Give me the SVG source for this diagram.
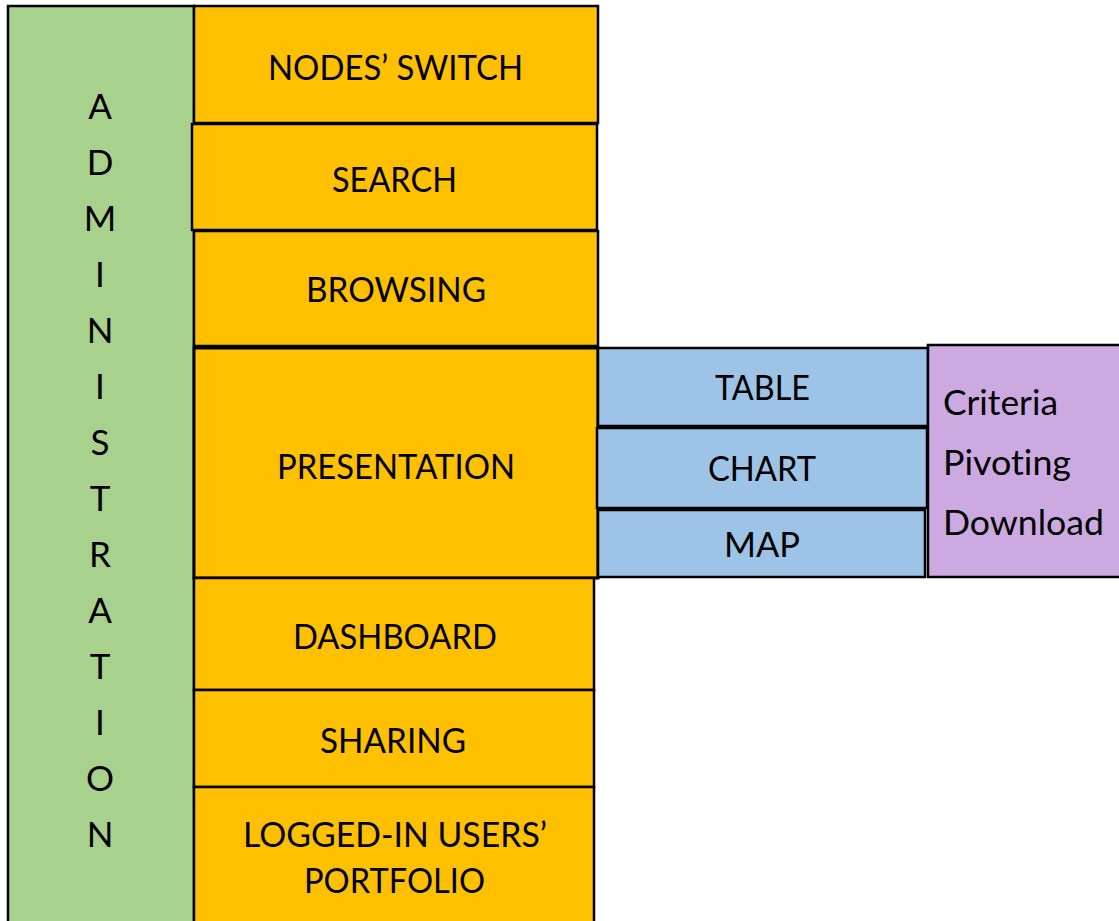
<svg xmlns="http://www.w3.org/2000/svg" width="1119" height="921" viewBox="0 0 1119 921">
<style>
.o{fill:#FFC000;stroke:#000;stroke-width:2.5}
.g{fill:#A9D18E;stroke:#000;stroke-width:2.5}
.b{fill:#9DC3E6;stroke:#000;stroke-width:2.5}
.p{fill:#CDA9E2;stroke:#000;stroke-width:2.5}
text{font-family:Lato,"Open Sans",sans-serif;font-size:35px;fill:#000;font-variant-ligatures:none}
.c{text-anchor:middle}
</style>
<rect width="1119" height="921" fill="#fff"/>
<g id="admin">
<rect class="g" x="8" y="6" width="186" height="930"/>
<text x="100" y="119" class="c">A</text>
<text x="100" y="175" class="c">D</text>
<text x="100" y="231" class="c">M</text>
<text x="100" y="287" class="c">I</text>
<text x="100" y="343" class="c">N</text>
<text x="100" y="399" class="c">I</text>
<text x="100" y="455" class="c">S</text>
<text x="100" y="511" class="c">T</text>
<text x="100" y="567" class="c">R</text>
<text x="100" y="623" class="c">A</text>
<text x="100" y="679" class="c">T</text>
<text x="100" y="735" class="c">I</text>
<text x="100" y="791" class="c">O</text>
<text x="100" y="847" class="c">N</text>
</g>
<g id="nodes-switch"><rect class="o" x="194" y="6" width="404" height="117"/><text x="268" y="80" textLength="255" lengthAdjust="spacingAndGlyphs">NODES’ SWITCH</text></g>
<g id="search"><rect class="o" x="192" y="124" width="405" height="106"/><text x="332" y="192" textLength="125" lengthAdjust="spacingAndGlyphs">SEARCH</text></g>
<g id="browsing"><rect class="o" x="194" y="231" width="404" height="115"/><text x="306" y="302" textLength="180" lengthAdjust="spacingAndGlyphs">BROWSING</text></g>
<g id="presentation"><rect class="o" x="194" y="348" width="404" height="230" style="stroke-width:3"/><text x="277" y="479" textLength="238" lengthAdjust="spacingAndGlyphs">PRESENTATION</text></g>
<g id="dashboard"><rect class="o" x="194" y="578" width="400" height="112"/><text x="293" y="649" textLength="204" lengthAdjust="spacingAndGlyphs">DASHBOARD</text></g>
<g id="sharing"><rect class="o" x="194" y="690" width="400" height="97"/><text x="320" y="753" textLength="146" lengthAdjust="spacingAndGlyphs">SHARING</text></g>
<g id="portfolio"><rect class="o" x="194" y="787" width="400" height="150"/><text x="243" y="847" textLength="304" lengthAdjust="spacingAndGlyphs">LOGGED-IN USERS’</text><text x="304" y="893" textLength="181" lengthAdjust="spacingAndGlyphs">PORTFOLIO</text></g>
<g id="table"><rect class="b" x="598" y="348" width="330" height="78"/><text x="715" y="400" textLength="95" lengthAdjust="spacingAndGlyphs">TABLE</text></g>
<g id="chart"><rect class="b" x="597" y="428" width="330" height="80"/><text x="708" y="481" textLength="108" lengthAdjust="spacingAndGlyphs">CHART</text></g>
<g id="map"><rect class="b" x="598" y="510" width="327" height="67"/><text x="724" y="557" textLength="76" lengthAdjust="spacingAndGlyphs">MAP</text></g>
<g id="options"><rect class="p" x="928" y="345" width="200" height="232"/>
<text x="943" y="415" textLength="115" lengthAdjust="spacingAndGlyphs">Criteria</text>
<text x="943" y="475" textLength="128" lengthAdjust="spacingAndGlyphs">Pivoting</text>
<text x="943" y="535" textLength="161" lengthAdjust="spacingAndGlyphs">Download</text>
</g>
<g id="connectors"></g>
</svg>
